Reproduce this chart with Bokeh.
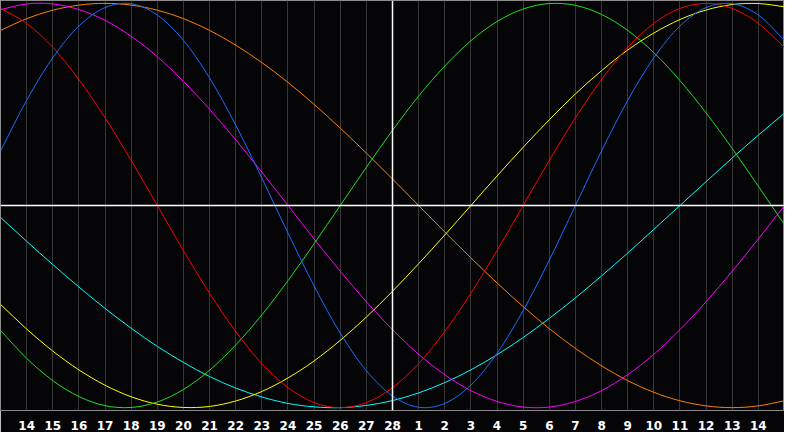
from bokeh.plotting import figure
from bokeh.models import Span, FixedTicker
from bokeh.embed import file_html
from bokeh.resources import INLINE

# sample positions (grid lines), one per day
days = list(range(31))
tick_positions = list(range(1, 30))
tick_labels = ["14", "15", "16", "17", "18", "19", "20", "21", "22", "23", "24", "25", "26", "27", "28",
               "1", "2", "3", "4", "5", "6", "7", "8", "9", "10", "11", "12", "13", "14"]

# cycle values, -1 .. 1, at each day position
physical_23 = [0.270, 0.520, 0.731, 0.888, 0.979, 0.998, 0.942, 0.817, 0.631, 0.398, 0.136,
               -0.136, -0.398, -0.631, -0.817, -0.942, -0.998, -0.979, -0.888, -0.731, -0.520,
               -0.270, 0.000, 0.270, 0.520, 0.731, 0.888, 0.979, 0.998, 0.942, 0.817]
emotional_28 = [0.975, 0.901, 0.782, 0.623, 0.434, 0.223, 0.000, -0.223, -0.434, -0.623, -0.782,
                -0.901, -0.975, -1.000, -0.975, -0.901, -0.782, -0.623, -0.434, -0.223, 0.000,
                0.223, 0.434, 0.623, 0.782, 0.901, 0.975, 1.000, 0.975, 0.901, 0.782]
intellectual_33 = [-0.618, -0.756, -0.866, -0.945, -0.990, -0.999, -0.972, -0.910, -0.815, -0.690, -0.541,
                   -0.372, -0.189, 0.000, 0.189, 0.372, 0.541, 0.690, 0.815, 0.910, 0.972,
                   0.999, 0.990, 0.945, 0.866, 0.756, 0.618, 0.458, 0.282, 0.095, -0.095]
intuitive_38 = [0.969, 0.997, 0.997, 0.969, 0.916, 0.837, 0.736, 0.614, 0.476, 0.325, 0.165,
                0.000, -0.165, -0.325, -0.476, -0.614, -0.736, -0.837, -0.916, -0.969, -0.997,
                -0.997, -0.969, -0.916, -0.837, -0.736, -0.614, -0.476, -0.325, -0.165, 0.000]
aesthetic_43 = [-0.489, -0.611, -0.720, -0.813, -0.889, -0.946, -0.983, -0.999, -0.994, -0.967, -0.920,
                -0.853, -0.769, -0.667, -0.552, -0.424, -0.288, -0.146, 0.000, 0.146, 0.288,
                0.424, 0.552, 0.667, 0.769, 0.853, 0.920, 0.967, 0.994, 0.999, 0.983]
awareness_48 = [0.866, 0.924, 0.966, 0.991, 1.000, 0.991, 0.966, 0.924, 0.866, 0.793, 0.707,
                0.609, 0.500, 0.383, 0.259, 0.131, 0.000, -0.131, -0.259, -0.383, -0.500,
                -0.609, -0.707, -0.793, -0.866, -0.924, -0.966, -0.991, -1.000, -0.991, -0.966]
spiritual_53 = [-0.059, -0.177, -0.292, -0.403, -0.509, -0.607, -0.697, -0.776, -0.846, -0.903, -0.947,
                -0.979, -0.996, -1.000, -0.989, -0.965, -0.927, -0.876, -0.813, -0.738, -0.653,
                -0.558, -0.457, -0.348, -0.235, -0.118, 0.000, 0.118, 0.235, 0.348, 0.457]

today_position = 15

BG = "#050508"
p = figure(width=784, height=432, output_backend="svg", toolbar_location=None,
           x_range=(0, 30), y_range=(-1.014, 1.014),
           background_fill_color=BG, border_fill_color=BG,
           outline_line_color="#8c8c8c", outline_line_width=1,
           min_border_left=0, min_border_right=0, min_border_top=0, min_border_bottom=0)

p.yaxis.visible = False
p.ygrid.visible = False
p.xgrid.ticker = FixedTicker(ticks=tick_positions)
p.xgrid.grid_line_color = "#363636"
p.xgrid.grid_line_width = 1

ax = p.xaxis[0]
ax.ticker = FixedTicker(ticks=tick_positions)
ax.major_label_overrides = {pos: lab for pos, lab in zip(tick_positions, tick_labels)}
ax.axis_line_color = None
ax.major_tick_line_color = None
ax.minor_tick_line_color = None
ax.major_label_text_color = "white"
ax.major_label_text_font = "DejaVu Sans"
ax.major_label_text_font_style = "bold"
ax.major_label_text_font_size = "12px"
ax.major_label_standoff = 4

p.add_layout(Span(location=0, dimension="width", line_color="white", line_width=1.5))
p.add_layout(Span(location=today_position, dimension="height", line_color="white", line_width=1.5))


def smooth_segments(xs, ys):
    """Catmull-Rom rendering of the sampled curve as cubic Bezier segments."""
    n = len(xs)
    px = [2 * xs[0] - xs[1]] + list(xs) + [2 * xs[-1] - xs[-2]]
    py = [2 * ys[0] - ys[1]] + list(ys) + [2 * ys[-1] - ys[-2]]
    seg = dict(x0=[], y0=[], x1=[], y1=[], cx0=[], cy0=[], cx1=[], cy1=[])
    for i in range(1, n):
        seg["x0"].append(px[i]); seg["y0"].append(py[i])
        seg["x1"].append(px[i + 1]); seg["y1"].append(py[i + 1])
        seg["cx0"].append(px[i] + (px[i + 1] - px[i - 1]) / 6)
        seg["cy0"].append(py[i] + (py[i + 1] - py[i - 1]) / 6)
        seg["cx1"].append(px[i + 1] - (px[i + 2] - px[i]) / 6)
        seg["cy1"].append(py[i + 1] - (py[i + 2] - py[i]) / 6)
    return seg


series = [
    (spiritual_53, "#00ffff"),
    (awareness_48, "#ff8000"),
    (aesthetic_43, "#ffff00"),
    (intuitive_38, "#ff00ff"),
    (intellectual_33, "#20e020"),
    (emotional_28, "#ff0000"),
    (physical_23, "#1a6cff"),
]
for vals, col in series:
    s = smooth_segments(days, vals)
    p.bezier(x0="x0", y0="y0", x1="x1", y1="y1", cx0="cx0", cy0="cy0", cx1="cx1", cy1="cy1",
             source=s, line_color=col, line_width=1)

open("out.html", "w").write(file_html(p, INLINE))
